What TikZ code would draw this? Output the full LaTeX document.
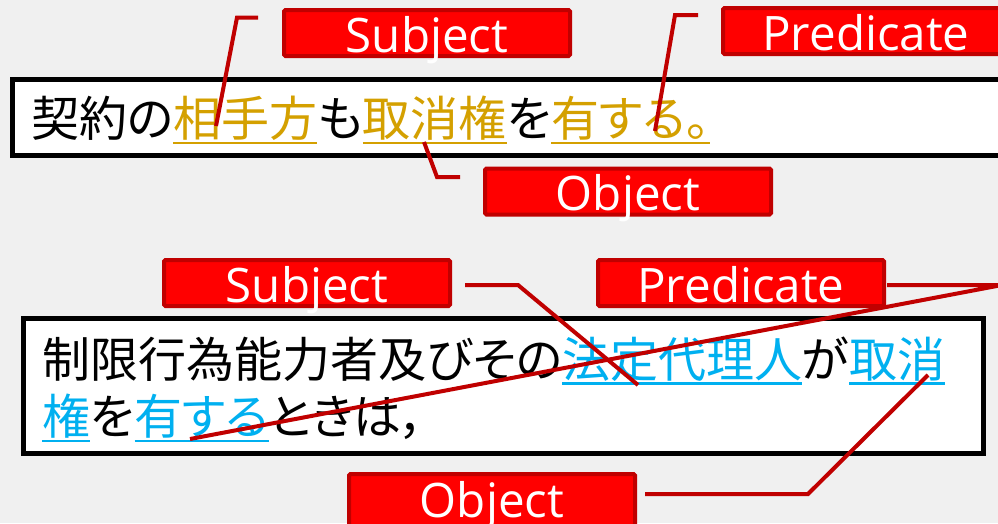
\documentclass[tikz,border=0pt]{standalone}
\usepackage{fontspec}
\newfontfamily\jpfont[RawFeature=+palt]{Noto Sans CJK JP}
\newfontfamily\lblfont{Open Sans}
\definecolor{bg}{HTML}{F0F0F0}
\definecolor{lblred}{HTML}{FF0000}
\definecolor{lbledge}{HTML}{C00000}
\definecolor{gold}{HTML}{D4A000}
\definecolor{sky}{HTML}{00B0F0}
\newcommand\jpul[2]{{\color{#1}\setbox0\hbox{#2}\rlap{\rule[-7.5pt]{\wd0}{2.5pt}}\box0}}
\begin{document}
\begin{tikzpicture}[x=1pt,y=-1pt,
  lbl/.style={draw=lbledge, fill=lblred, line width=4pt, rounded corners=1.5pt, minimum width=286pt, minimum height=46pt, inner sep=0pt, text=white, font=\lblfont\fontsize{47.5}{50}\selectfont, text height=38pt, text depth=0pt},
  textbox/.style={draw=black, fill=white, line width=5pt},
  leader/.style={draw=lbledge, line width=4pt},
  jptext/.style={anchor=base west, inner sep=0pt, font=\jpfont\fontsize{48}{57}\selectfont}
]
\useasboundingbox (0,0) rectangle (998,523);
\clip (0,0) rectangle (998,523);
\fill[bg] (0,0) rectangle (998,523);

\draw[textbox] (12.5,79.5) rectangle (1010,155.5);
\draw[textbox] (23.5,318.5) rectangle (983.5,453.5);

\node[jptext] (t1) at (31,136.5) {契約の\jpul{gold}{相手方}も\jpul{gold}{取消権}を\jpul{gold}{有する。}};
\node[jptext] (b1) at (42,377) {制限行為能力者及びその\jpul{sky}{法定代理人}が\jpul{sky}{取消}};
\node[jptext] (b2) at (42,434.5) {\jpul{sky}{権}を\jpul{sky}{有する}ときは，};

\node[lbl] (tS) at (427,33) {Subject};
\node[lbl] (tP) at (866,31) {Predicate};
\node[lbl] (tO) at (628,191.5) {Object};
\node[lbl] (bS) at (307,283) {Subject};
\node[lbl] (bP) at (741,283) {Predicate};
\node[lbl, minimum height=52pt, text height=34pt] (bO) at (492,500) {Object};

\coordinate (tSa) at (258,17.5);
\coordinate (tSb) at (237,17.5);
\coordinate (tSc) at (216,126);
\coordinate (tPa) at (698,15);
\coordinate (tPb) at (675,15);
\coordinate (tPc) at (655,131);
\coordinate (tOa) at (460,177);
\coordinate (tOb) at (437,177);
\coordinate (tOc) at (424,142);
\coordinate (bSa) at (465,285);
\coordinate (bSb) at (518,285);
\coordinate (bSc) at (638,385);
\coordinate (bPa) at (887,285);
\coordinate (bPb) at (1002,285);
\coordinate (bPc) at (190,439);
\coordinate (bOa) at (645,494);
\coordinate (bOb) at (808,494);
\coordinate (bOc) at (928,375);

\draw[leader] (tSa) -- (tSb) -- (tSc);
\draw[leader] (tPa) -- (tPb) -- (tPc);
\draw[leader] (tOa) -- (tOb) -- (tOc);
\draw[leader] (bSa) -- (bSb) -- (bSc);
\draw[leader] (bPa) -- (bPb) -- (bPc);
\draw[leader] (bOa) -- (bOb) -- (bOc);
\end{tikzpicture}
\end{document}
